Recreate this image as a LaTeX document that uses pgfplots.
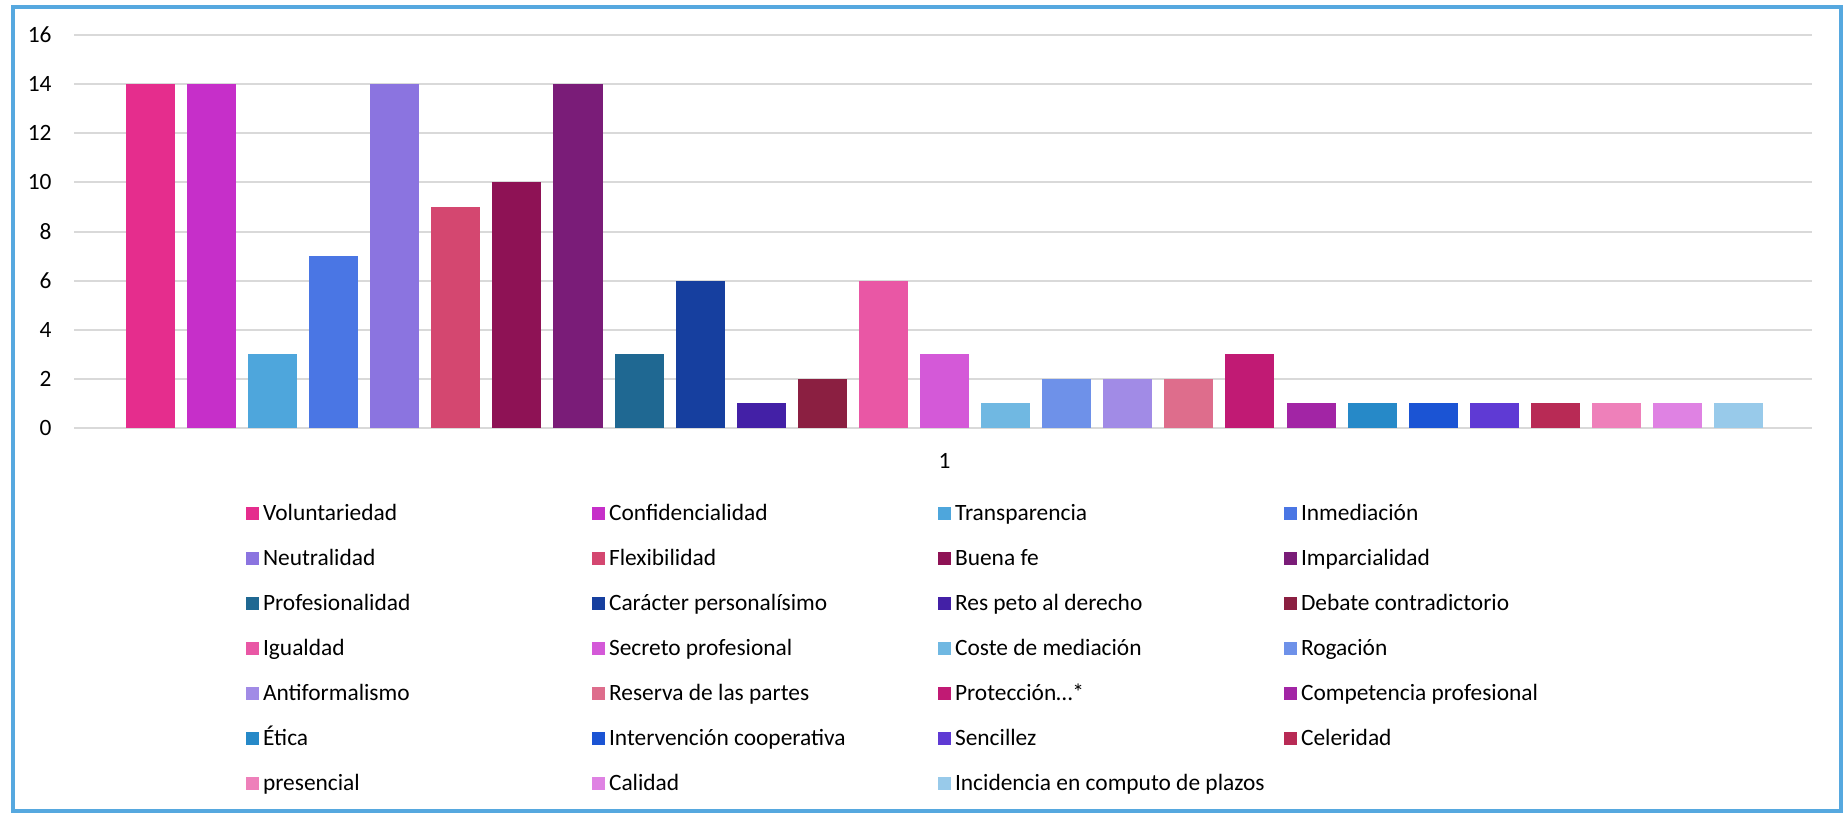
\documentclass[border=0pt]{standalone}
\usepackage{fontspec}
\setmainfont{Carlito}
\usepackage{pgfplots}
\pgfplotsset{compat=1.18}
\definecolor{c1}{HTML}{E52D8D}
\definecolor{c2}{HTML}{C62FC9}
\definecolor{c3}{HTML}{4EA6DC}
\definecolor{c4}{HTML}{4A76E4}
\definecolor{c5}{HTML}{8B74E0}
\definecolor{c6}{HTML}{D44770}
\definecolor{c7}{HTML}{8E1255}
\definecolor{c8}{HTML}{7A1C78}
\definecolor{c9}{HTML}{1F6892}
\definecolor{c10}{HTML}{163F9F}
\definecolor{c11}{HTML}{4320A6}
\definecolor{c12}{HTML}{8B1F41}
\definecolor{c13}{HTML}{E957A5}
\definecolor{c14}{HTML}{D459D8}
\definecolor{c15}{HTML}{70B8E2}
\definecolor{c16}{HTML}{6E91E9}
\definecolor{c17}{HTML}{A18BE6}
\definecolor{c18}{HTML}{DE6D8C}
\definecolor{c19}{HTML}{C11A74}
\definecolor{c20}{HTML}{A225A5}
\definecolor{c21}{HTML}{2689C8}
\definecolor{c22}{HTML}{1B54D4}
\definecolor{c23}{HTML}{5F3AD4}
\definecolor{c24}{HTML}{B82A55}
\definecolor{c25}{HTML}{EE80BA}
\definecolor{c26}{HTML}{DF82E3}
\definecolor{c27}{HTML}{98CAEA}
\definecolor{gridc}{HTML}{D9D9D9}
\definecolor{framec}{HTML}{56A8DF}
\newcommand\LE[1]{\makebox[166.5pt][l]{\hspace{2pt}\rule[-3.5pt]{0pt}{14pt}#1}}
\pgfplotsset{mybar/.style={fill=#1, draw=none, bar shift=0pt}}
\begin{document}
\begin{tikzpicture}[font=\fontsize{11.7pt}{14pt}\selectfont]
\useasboundingbox (0,0) rectangle (922.5pt,408pt);
\fill[white] (0,0) rectangle (922.5pt,408pt);
\begin{axis}[
  at={(37pt,194pt)}, anchor=south west,
  scale only axis, width=869pt, height=196.5pt,
  xmin=-1.25, xmax=27.2, ymin=0, ymax=16,
  ytick={0,2,...,16}, xtick={13}, xticklabels={1},
  ymajorgrids, grid style={color=gridc, line width=1pt},
  axis line style={draw=none}, major tick length=0pt,
  /pgf/number format/assume math mode=true,
  yticklabel style={inner sep=0pt, xshift=-11pt},
  xticklabel style={inner sep=0pt, yshift=-12.5pt},
  ybar, bar width=24.5pt,
  legend columns=4,
  legend style={at={(axis description cs:0.099,-0.1817)}, anchor=north west,
    draw=none, fill=none, inner sep=0pt, outer sep=0pt,
    column sep=0pt, row sep=10.5pt, nodes={inner sep=0pt}, cells={anchor=base west}},
  legend image code/.code={\fill[#1] (0pt,0pt) rectangle (6.5pt,6.5pt);},
]
\addplot[mybar=c1] coordinates {(0,14)}; \addlegendentry{\LE{Voluntariedad}}
\addplot[mybar=c2] coordinates {(1,14)}; \addlegendentry{\LE{Confidencialidad}}
\addplot[mybar=c3] coordinates {(2,3)}; \addlegendentry{\LE{Transparencia}}
\addplot[mybar=c4] coordinates {(3,7)}; \addlegendentry{\LE{Inmediación}}
\addplot[mybar=c5] coordinates {(4,14)}; \addlegendentry{\LE{Neutralidad}}
\addplot[mybar=c6] coordinates {(5,9)}; \addlegendentry{\LE{Flexibilidad}}
\addplot[mybar=c7] coordinates {(6,10)}; \addlegendentry{\LE{Buena fe}}
\addplot[mybar=c8] coordinates {(7,14)}; \addlegendentry{\LE{Imparcialidad}}
\addplot[mybar=c9] coordinates {(8,3)}; \addlegendentry{\LE{Profesionalidad}}
\addplot[mybar=c10] coordinates {(9,6)}; \addlegendentry{\LE{Carácter personalísimo}}
\addplot[mybar=c11] coordinates {(10,1)}; \addlegendentry{\LE{Res peto al derecho}}
\addplot[mybar=c12] coordinates {(11,2)}; \addlegendentry{\LE{Debate contradictorio}}
\addplot[mybar=c13] coordinates {(12,6)}; \addlegendentry{\LE{Igualdad}}
\addplot[mybar=c14] coordinates {(13,3)}; \addlegendentry{\LE{Secreto profesional}}
\addplot[mybar=c15] coordinates {(14,1)}; \addlegendentry{\LE{Coste de mediación}}
\addplot[mybar=c16] coordinates {(15,2)}; \addlegendentry{\LE{Rogación}}
\addplot[mybar=c17] coordinates {(16,2)}; \addlegendentry{\LE{Antiformalismo}}
\addplot[mybar=c18] coordinates {(17,2)}; \addlegendentry{\LE{Reserva de las partes}}
\addplot[mybar=c19] coordinates {(18,3)}; \addlegendentry{\LE{Protección…*}}
\addplot[mybar=c20] coordinates {(19,1)}; \addlegendentry{\LE{Competencia profesional}}
\addplot[mybar=c21] coordinates {(20,1)}; \addlegendentry{\LE{Ética}}
\addplot[mybar=c22] coordinates {(21,1)}; \addlegendentry{\LE{Intervención cooperativa}}
\addplot[mybar=c23] coordinates {(22,1)}; \addlegendentry{\LE{Sencillez}}
\addplot[mybar=c24] coordinates {(23,1)}; \addlegendentry{\LE{Celeridad}}
\addplot[mybar=c25] coordinates {(24,1)}; \addlegendentry{\LE{presencial}}
\addplot[mybar=c26] coordinates {(25,1)}; \addlegendentry{\LE{Calidad}}
\addplot[mybar=c27] coordinates {(26,1)}; \addlegendentry{\LE{Incidencia en computo de plazos}}
\end{axis}
\draw[framec, line width=2pt] (6.5pt,2.5pt) rectangle (920.5pt,404.5pt);
\end{tikzpicture}
\end{document}
